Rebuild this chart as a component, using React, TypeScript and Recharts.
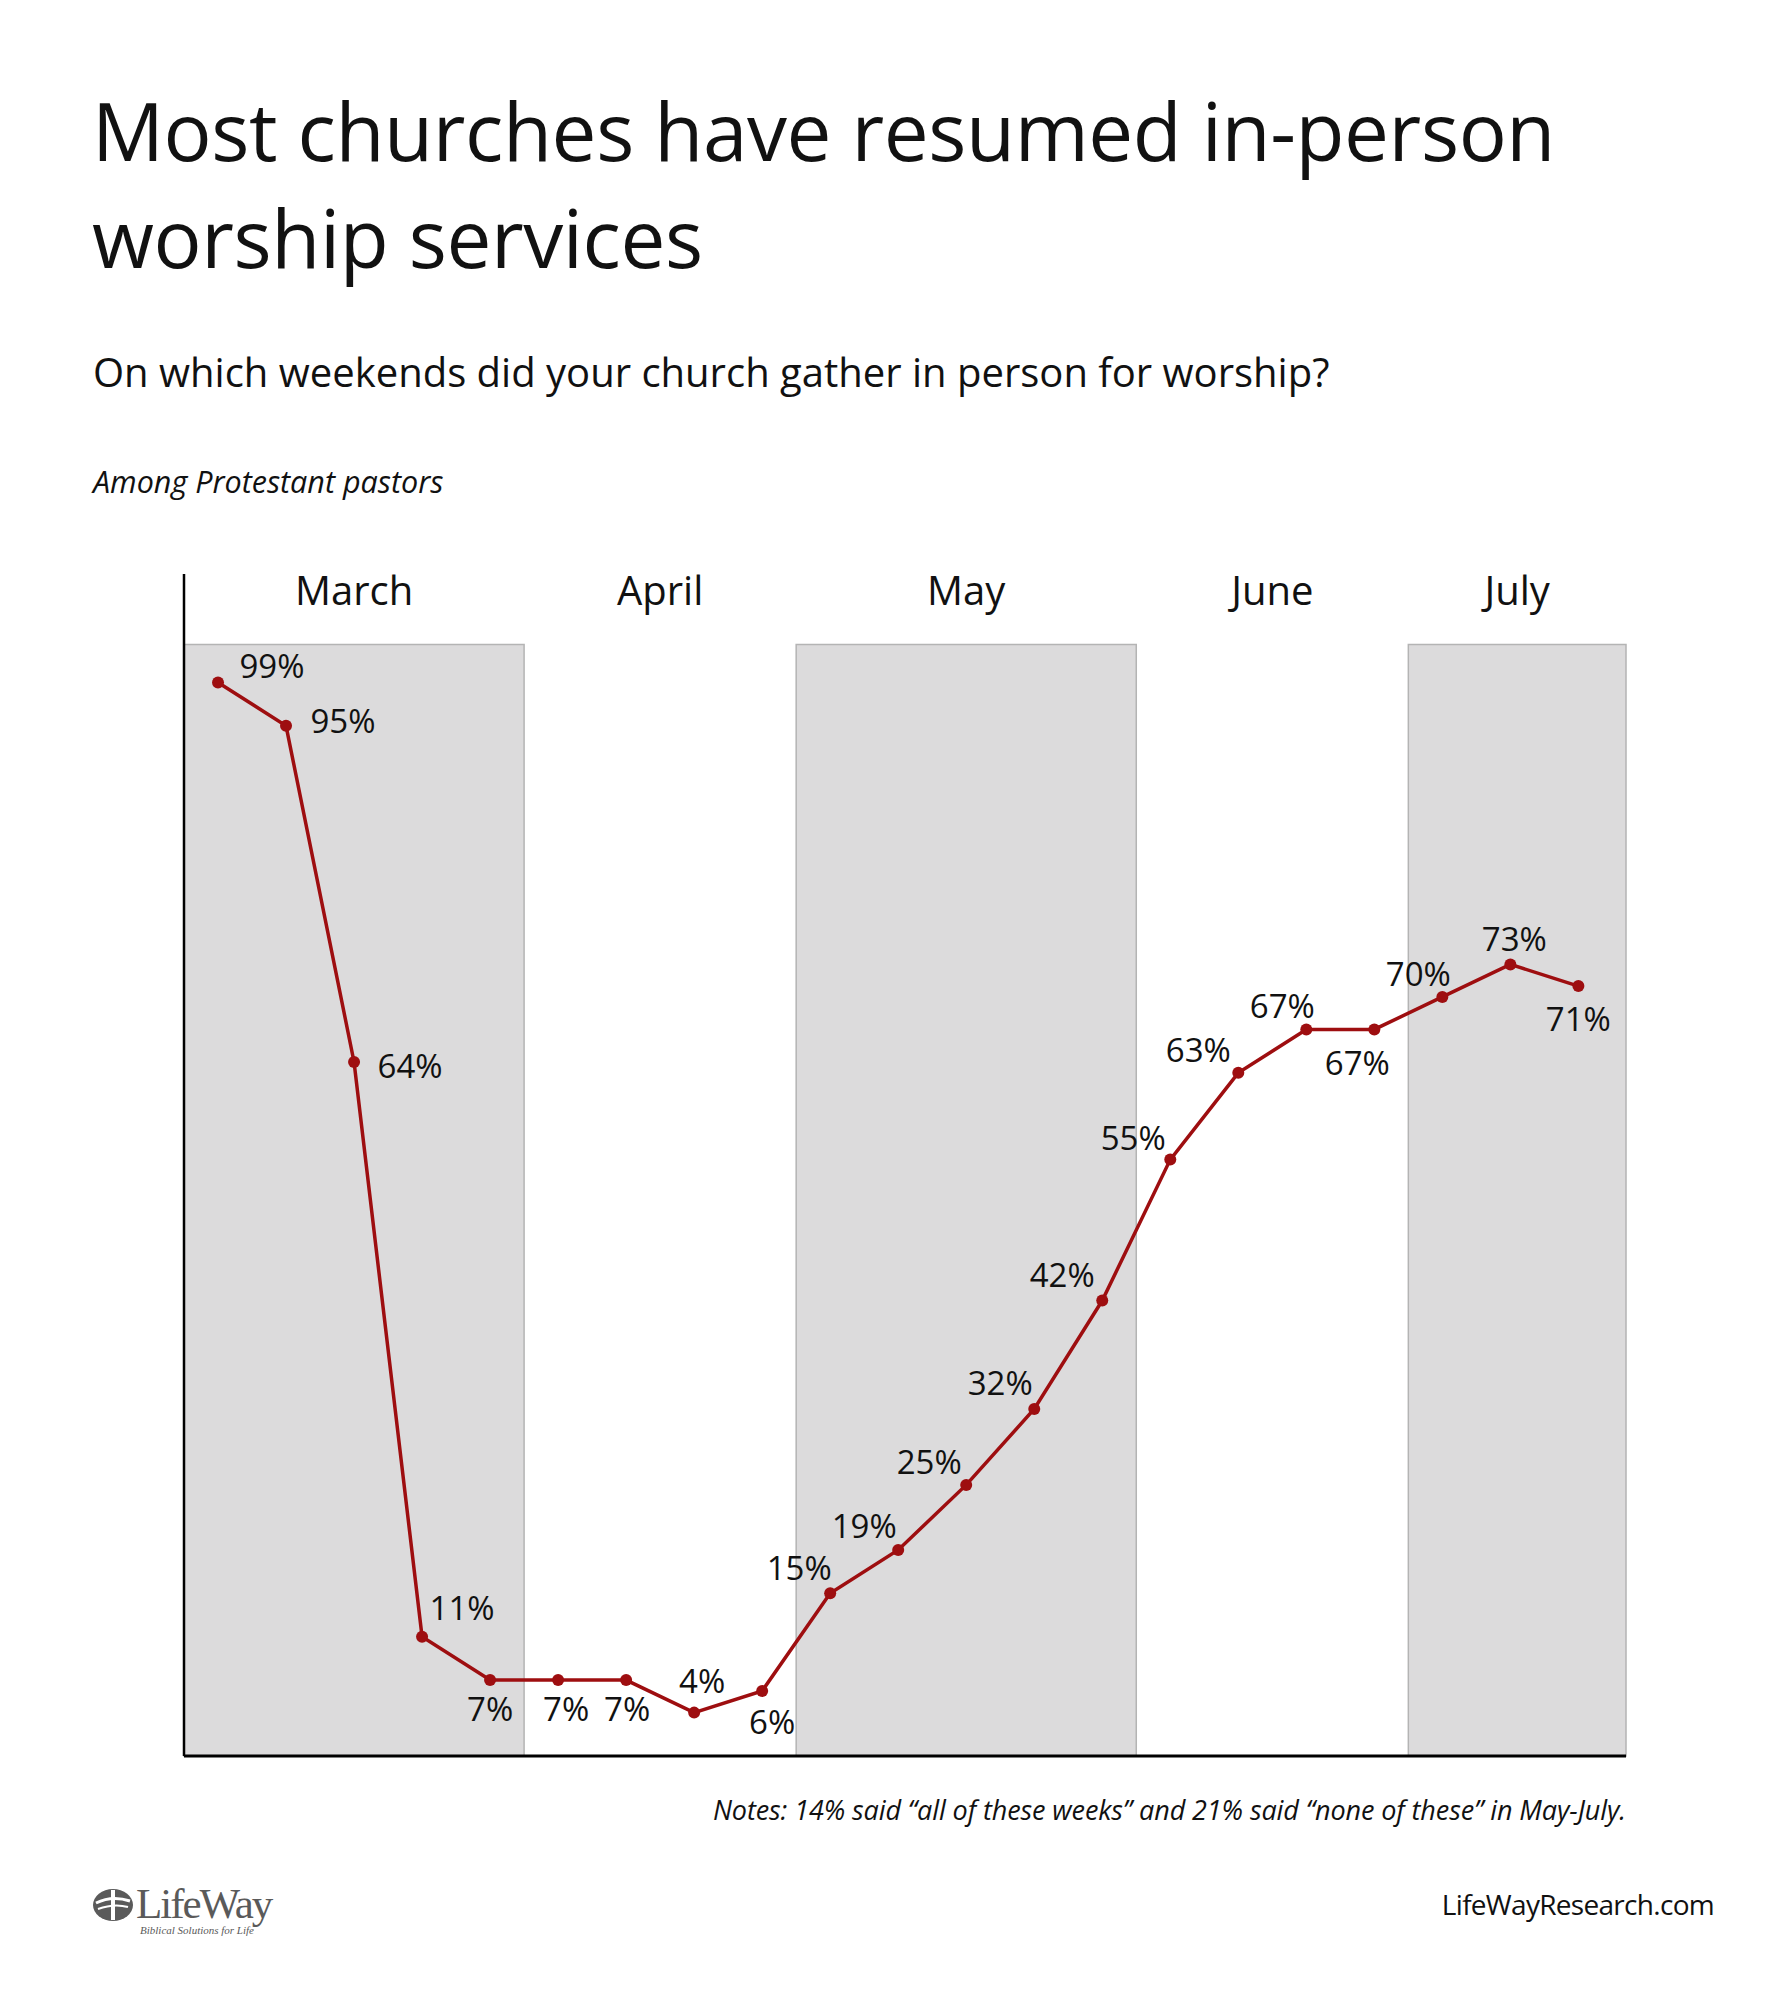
import React from 'react'
import { LineChart, Line, XAxis, YAxis, ReferenceArea, ReferenceLine, LabelList } from 'recharts'

// weekends surveyed (2020), one point each
const WEEKENDS = [
  'Mar 1', 'Mar 8', 'Mar 15', 'Mar 22', 'Mar 29',
  'Apr 5', 'Apr 12', 'Apr 19', 'Apr 26',
  'May 3', 'May 10', 'May 17', 'May 24', 'May 31',
  'Jun 7', 'Jun 14', 'Jun 21', 'Jun 28',
  'Jul 5', 'Jul 12', 'Jul 19',
]
const IN_PERSON = [99, 95, 64, 11, 7, 7, 7, 4, 6, 15, 19, 25, 32, 42, 55, 63, 67, 67, 70, 73, 71]

const MONTHS = ['March', 'April', 'May', 'June', 'July']
const WEEKS_PER_MONTH = [5, 4, 5, 4, 3]
const SHADED = [true, false, true, false, true]

// where each value label sits relative to its dot (px)
const LABEL_OFFSET: [number, number][] = [
  [54, -17], [57, -5], [56, 4], [40, -29], [0, 28],
  [8, 28], [1, 28], [8, -32], [10, 31],
  [-31, -26], [-34, -24], [-37, -23], [-34, -26], [-40, -26],
  [-37, -22], [-40, -23], [-24, -24], [-17, 33],
  [-24, -23], [4, -26], [0, 32],
]

const C = {
  text:  '#111111',
  red:   '#9E0E10',
  band:  '#DCDBDC',
  edge:  '#B4B4B4',
  logo:  '#5A5A5A',
}

const FONT = '"Open Sans", "Noto Sans", sans-serif'
const X_MIN = -0.5
const X_MAX = 20.7
const Y_MAX = 109
const BAND_TOP = 102.5

const data = WEEKENDS.map((w, i) => ({ i, week: w, pct: IN_PERSON[i] }))

const bands = (() => {
  let start = X_MIN
  return MONTHS.map((m, k) => {
    const end = k === MONTHS.length - 1 ? X_MAX : start + WEEKS_PER_MONTH[k]
    const b = { month: m, x1: start, x2: end, shaded: SHADED[k] }
    start = end
    return b
  })
})()

function PctLabel(props: any) {
  const { x, y, value, index } = props
  const [dx, dy] = LABEL_OFFSET[index] || [0, -28]
  return (
    <text
      x={x + dx}
      y={y + dy}
      textAnchor="middle"
      dominantBaseline="central"
      fontFamily={FONT}
      fontSize={33}
      fill={C.text}
    >
      {value}%
    </text>
  )
}

function Logo() {
  return (
    <div style={{ position: 'absolute', left: 92, top: 1880, width: 200, height: 60 }}>
      <svg width={44} height={36} style={{ position: 'absolute', left: 0, top: 7 }}>
        <ellipse cx={21} cy={18} rx={20} ry={16} fill={C.logo} />
        <rect x={19} y={3} width={4} height={30} fill="#fff" />
        <path d="M4 16 Q 20 8 38 14" stroke="#fff" strokeWidth={3} fill="none" />
        <path d="M6 22 Q 22 16 36 20" stroke="#fff" strokeWidth={2} fill="none" />
      </svg>
      <div style={{
        position: 'absolute', left: 44, top: -1,
        fontFamily: '"Liberation Serif", "DejaVu Serif", serif',
        fontSize: 43, letterSpacing: -2, color: C.logo, lineHeight: '50px',
      }}>
        LifeWay
      </div>
      <div style={{
        position: 'absolute', left: 48, top: 44,
        fontFamily: '"Liberation Serif", serif', fontStyle: 'italic',
        fontSize: 11, color: C.logo, lineHeight: '12px', whiteSpace: 'nowrap',
      }}>
        Biblical Solutions for Life
      </div>
    </div>
  )
}

export default function App() {
  return (
    <div style={{ position: 'absolute', left: 0, top: 0, width: 1788, height: 2000, background: '#fff', fontFamily: FONT, color: C.text }}>
      <div style={{ position: 'absolute', left: 92, top: 76, fontSize: 80, lineHeight: '107px', width: 1600, letterSpacing: -0.4 }}>
        Most churches have resumed in-person<br />worship services
      </div>
      <div style={{ position: 'absolute', left: 93, top: 352, fontSize: 40, lineHeight: '40px', whiteSpace: 'nowrap' }}>
        On which weekends did your church gather in person for worship?
      </div>
      <div style={{ position: 'absolute', left: 93, top: 466, fontSize: 30.5, lineHeight: '30px', fontStyle: 'italic', whiteSpace: 'nowrap' }}>
        Among Protestant pastors
      </div>

      <div style={{ position: 'absolute', left: 0, top: 0 }}>
        <LineChart
          width={1788}
          height={1800}
          data={data}
          margin={{ top: 574, right: 162, bottom: 44, left: 184 }}
        >
          <XAxis dataKey="i" type="number" domain={[X_MIN, X_MAX]} allowDataOverflow hide />
          <YAxis type="number" domain={[0, Y_MAX]} allowDataOverflow hide />
          {bands.map((b) => (
            <ReferenceArea
              key={b.month}
              x1={b.x1}
              x2={b.x2}
              y1={0}
              y2={BAND_TOP}
              fill={b.shaded ? C.band : '#FFFFFF'}
              fillOpacity={b.shaded ? 1 : 0}
              stroke={b.shaded ? C.edge : 'none'}
              strokeWidth={1.5}
              ifOverflow="visible"
              label={{ value: b.month, position: 'top', offset: 39, fontSize: 40, fill: C.text, fontFamily: FONT }}
            />
          ))}
          {/* axis lines: left edge and baseline */}
          <ReferenceLine x={X_MIN} stroke="#000" strokeWidth={2.5} ifOverflow="visible" />
          <ReferenceLine y={0} stroke="#000" strokeWidth={3} ifOverflow="visible" />
          <Line
            type="linear"
            dataKey="pct"
            stroke={C.red}
            strokeWidth={3.5}
            dot={{ r: 6, fill: C.red, stroke: C.red, strokeWidth: 0 }}
            activeDot={false}
            isAnimationActive={false}
          >
            <LabelList dataKey="pct" content={<PctLabel />} />
          </Line>
        </LineChart>
      </div>

      <div style={{ position: 'absolute', right: 162, top: 1796, fontSize: 27, lineHeight: '27px', fontStyle: 'italic', whiteSpace: 'nowrap', letterSpacing: -0.1 }}>
        Notes: 14% said “all of these weeks” and 21% said “none of these” in May-July.
      </div>
      <div style={{ position: 'absolute', right: 74, top: 1890, fontSize: 28, lineHeight: '28px', whiteSpace: 'nowrap', letterSpacing: -0.7 }}>
        LifeWayResearch.com
      </div>
      <Logo />
    </div>
  )
}
